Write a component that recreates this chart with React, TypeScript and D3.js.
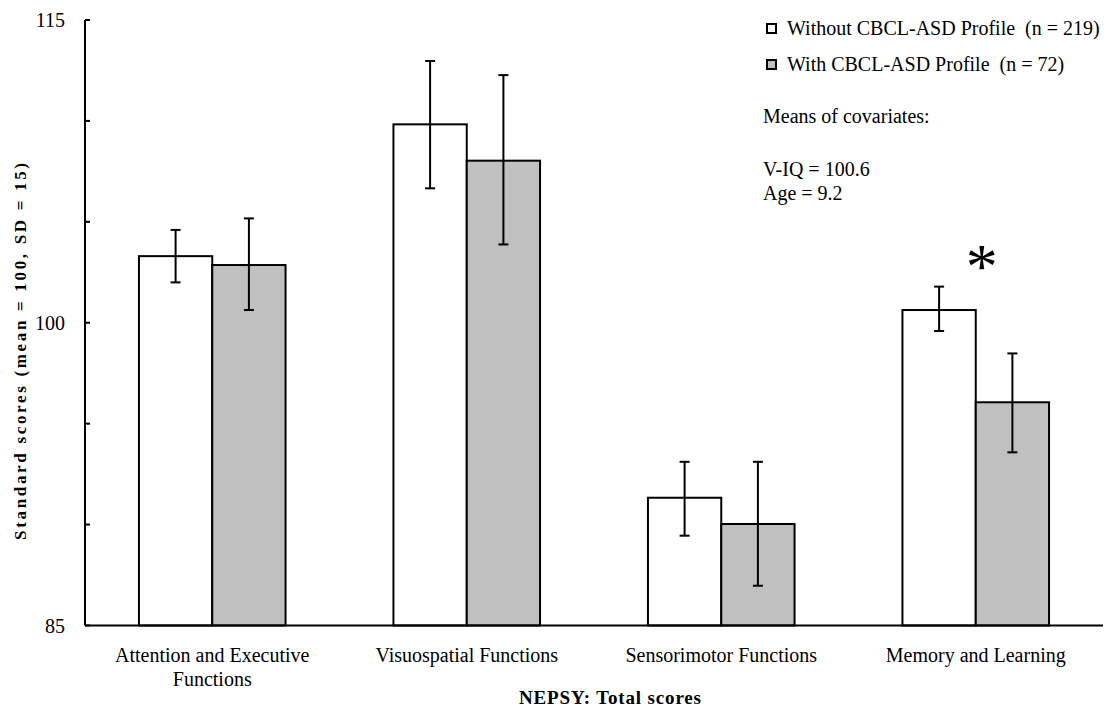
import React from "react";
import * as d3 from "d3";

const categories = [
  ["Attention and Executive", "Functions"],
  ["Visuospatial Functions"],
  ["Sensorimotor Functions"],
  ["Memory and Learning"],
];
const groups = ["Without CBCL-ASD Profile\u00a0 (n = 219)", "With CBCL-ASD Profile\u00a0 (n = 72)"];
const withoutMeans = [103.3, 109.83, 91.33, 100.63];
const withoutLow = [102.0, 106.66, 89.45, 99.59];
const withoutHigh = [104.6, 112.97, 93.11, 101.79];
const withMeans = [102.86, 108.03, 90.03, 96.06];
const withLow = [100.63, 103.88, 86.97, 93.58];
const withHigh = [105.17, 112.27, 93.11, 98.48];
const yTicks = [85, 90, 95, 100, 105, 110, 115];
const yLabels = [85, 100, 115];
const fills = ["#ffffff", "#c0c0c0"];

const W = 1108;
const H = 709;
const left = 85;
const right = 1103;
const top = 20;
const bottom = 625.5;
const font = "'Liberation Serif', 'Times New Roman', serif";

const App = () => {
  const keys = categories.map((c) => c.join(" "));
  const x0 = d3.scaleBand().domain(keys).range([left, right]).padding(0);
  const x1 = d3
    .scaleBand()
    .domain(["0", "1"])
    .range([0, x0.bandwidth()])
    .paddingInner(0)
    .paddingOuter(0.736);
  const y = d3.scaleLinear().domain([85, 115]).range([bottom, top]);

  const series = [
    { means: withoutMeans, low: withoutLow, high: withoutHigh },
    { means: withMeans, low: withLow, high: withHigh },
  ];

  return (
    <svg width={W} height={H} style={{ position: "absolute", left: 0, top: 0 }} fontFamily={font}>
      <rect width={W} height={H} fill="#fff" />
      {/* Bars */}
      {series.map((s, si) =>
        s.means.map((m, i) => {
          const bx = x0(keys[i])! + x1(String(si))!;
          const cx = bx + x1.bandwidth() / 2;
          return (
            <g key={`${si}-${i}`}>
              <rect
                x={bx}
                y={y(m)}
                width={x1.bandwidth()}
                height={bottom - y(m)}
                fill={fills[si]}
                stroke="#000"
                strokeWidth={2}
              />
              <line x1={cx} x2={cx} y1={y(s.high[i])} y2={y(s.low[i])} stroke="#000" strokeWidth={2} />
              <line x1={cx - 5} x2={cx + 5} y1={y(s.high[i])} y2={y(s.high[i])} stroke="#000" strokeWidth={2} />
              <line x1={cx - 5} x2={cx + 5} y1={y(s.low[i])} y2={y(s.low[i])} stroke="#000" strokeWidth={2} />
            </g>
          );
        })
      )}
      {/* Axes */}
      <line x1={left} x2={left} y1={top} y2={bottom} stroke="#000" strokeWidth={2} />
      <line x1={left} x2={right} y1={bottom} y2={bottom} stroke="#000" strokeWidth={2} />
      {yTicks.map((t) => (
        <line key={t} x1={left} x2={left + 5} y1={y(t)} y2={y(t)} stroke="#000" strokeWidth={2} />
      ))}
      {yLabels.map((t) => (
        <text key={t} x={left - 20} y={y(t) + 7} textAnchor="end" fontSize={20}>
          {t}
        </text>
      ))}
      {/* Category labels */}
      {categories.map((c, i) => (
        <text key={i} x={x0(keys[i])! + x0.bandwidth() / 2} y={662} textAnchor="middle" fontSize={20}>
          {c.map((line, li) => (
            <tspan key={li} x={x0(keys[i])! + x0.bandwidth() / 2} dy={li === 0 ? 0 : 24}>
              {line}
            </tspan>
          ))}
        </text>
      ))}
      <text x={610} y={704} textAnchor="middle" fontSize={19} fontWeight="bold" textLength={182} lengthAdjust="spacing">
        NEPSY: Total scores
      </text>
      <text
        transform={`translate(26, ${351.5}) rotate(-90)`}
        textAnchor="middle"
        fontSize={17}
        fontWeight="bold"
        textLength={377}
        lengthAdjust="spacing"
      >
        Standard scores (mean = 100, SD = 15)
      </text>
      {/* Significance marker */}
      <text x={x0(keys[3])! + x0.bandwidth() / 2 + 6} y={288} textAnchor="middle" fontSize={64}>
        *
      </text>
      {/* Legend */}
      {groups.map((g, i) => (
        <g key={g}>
          <rect x={767} y={24 + i * 36} width={9} height={9} fill={fills[i]} stroke="#000" strokeWidth={2} />
          <text x={787} y={35 + i * 36} fontSize={20}>
            {g}
          </text>
        </g>
      ))}
      <text x={763} y={123} fontSize={20}>
        Means of covariates:
      </text>
      <text x={763} y={176} fontSize={20}>
        V-IQ = 100.6
      </text>
      <text x={763} y={200} fontSize={20}>
        Age = 9.2
      </text>
    </svg>
  );
};

export default App;
